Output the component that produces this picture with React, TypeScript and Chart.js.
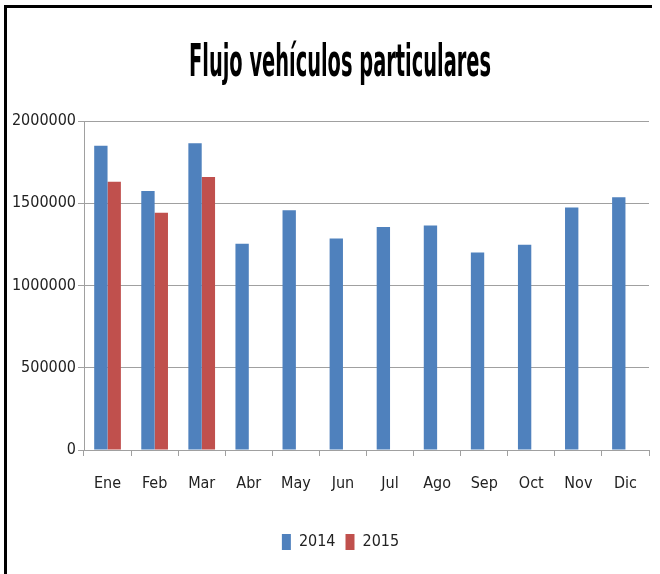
import React, { useEffect, useRef } from "react";
import { Chart, registerables } from "chart.js";

Chart.register(...registerables);

const categories = ["Ene", "Feb", "Mar", "Abr", "May", "Jun", "Jul", "Ago", "Sep", "Oct", "Nov", "Dic"];
const series2014 = [1849000, 1575000, 1864000, 1254000, 1457000, 1285000, 1356000, 1364000, 1201000, 1248000, 1474000, 1537000];
const series2015 = [1630000, 1443000, 1660000, null, null, null, null, null, null, null, null, null];
const yTicks = [0, 500000, 1000000, 1500000, 2000000];
const titleText = "Flujo vehículos particulares";

const FONT = "'DejaVu Sans Condensed', 'Liberation Sans Narrow', sans-serif";

const titlePlugin = {
  id: "narrowTitle",
  afterLayout(chart: any) {
    if (chart.legend) {
      chart.legend.left += 16;
      chart.legend.right += 16;
    }
  },
  afterDraw(chart: any) {
    const ctx = chart.ctx;
    ctx.save();
    ctx.font = `bold 44px ${FONT}`;
    ctx.fillStyle = "#000";
    ctx.textAlign = "center";
    ctx.textBaseline = "alphabetic";
    const w = ctx.measureText(titleText).width;
    const sx = 302 / w;
    ctx.translate(340, 76);
    ctx.scale(sx, 1);
    ctx.fillText(titleText, 0, 0);
    ctx.restore();
  },
};

export default function App() {
  const ref = useRef<HTMLCanvasElement | null>(null);
  useEffect(() => {
    if (!ref.current) return;
    const chart = new Chart(ref.current, {
      type: "bar",
      data: {
        labels: categories,
        datasets: [
          { label: "2014", data: series2014, backgroundColor: "#4F81BD", categoryPercentage: 0.567, barPercentage: 1 },
          { label: "2015", data: series2015, backgroundColor: "#C0504D", categoryPercentage: 0.567, barPercentage: 1 },
        ],
      },
      plugins: [titlePlugin],
      options: {
        animation: false,
        responsive: false,
        maintainAspectRatio: false,
        layout: { padding: { left: 0, right: 11, top: 121, bottom: 14 } },
        plugins: {
          title: { display: false },
          legend: {
            position: "bottom",
            labels: {
              color: "#222",
              font: { family: FONT, size: 16 },
              boxWidth: 9,
              boxHeight: 16,
              padding: 10,
            },
          },
          tooltip: { enabled: false },
        },
        scales: {
          x: {
            grid: { display: true, drawOnChartArea: false, drawTicks: true, tickLength: 6, color: "#a0a0a0" },
            border: { display: true, color: "#a0a0a0", width: 1 },
            ticks: { color: "#222", font: { family: FONT, size: 16 }, padding: 18 },
            afterFit: (s: any) => { s.height = 74; },
          },
          y: {
            min: 0,
            max: 2000000,
            afterBuildTicks: (s: any) => { s.ticks = yTicks.map((v) => ({ value: v })); },
            grid: { color: "#a0a0a0", tickLength: 6, lineWidth: 1 },
            border: { display: true, color: "#a0a0a0" },
            ticks: { color: "#222", font: { family: FONT, size: 16 }, padding: 2, callback: (v: any) => String(v) },
            afterFit: (s: any) => { s.width = 84; },
          },
        },
      },
    });
    return () => chart.destroy();
  }, []);
  return (
    <div style={{ position: "absolute", left: 0, top: 0, width: 660, height: 574, background: "#fff", overflow: "hidden" }}>
      <canvas ref={ref} width={660} height={574} style={{ position: "absolute", left: 0, top: 0 }} />
      <div style={{ position: "absolute", left: 4, top: 5, width: 648, height: 580, borderTop: "3px solid #000", borderLeft: "3px solid #000", boxSizing: "border-box", pointerEvents: "none" }} />
    </div>
  );
}
